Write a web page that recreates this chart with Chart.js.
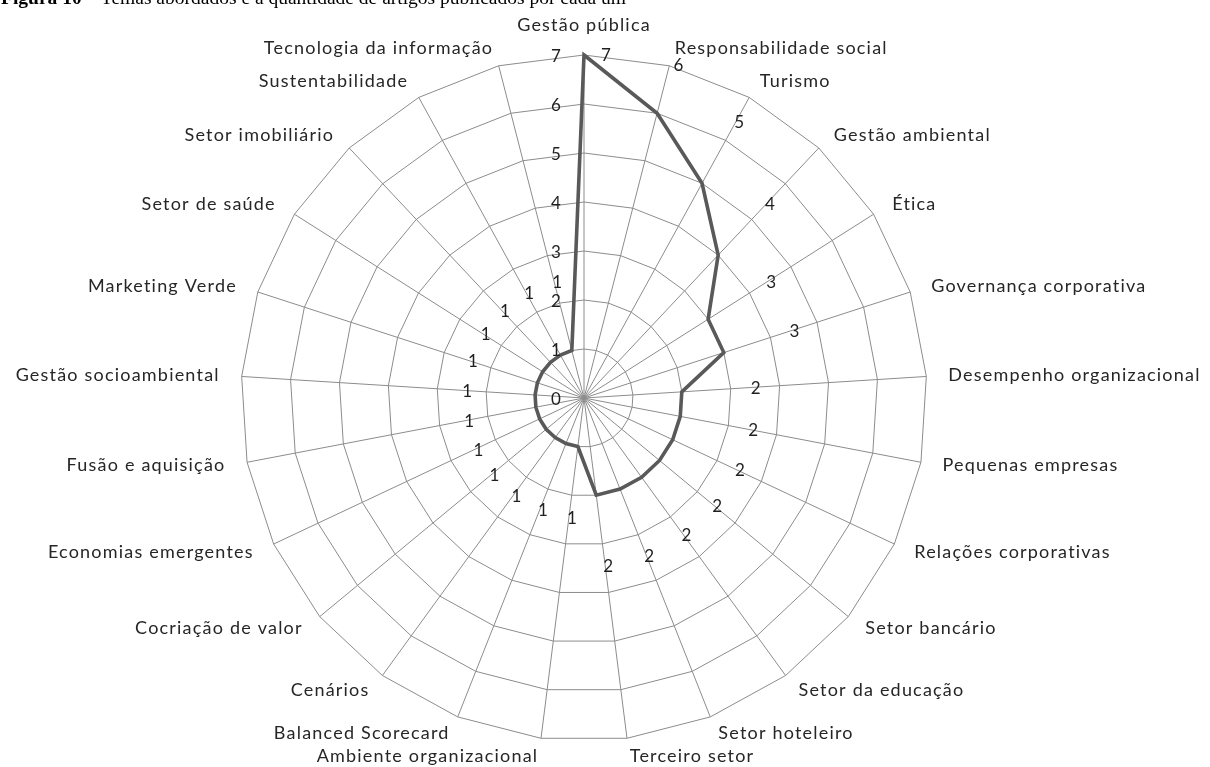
<!DOCTYPE html>
<html>
<head>
<meta charset="utf-8">
<script src="https://cdn.jsdelivr.net/npm/chart.js@4/dist/chart.umd.min.js"></script>
<style>
  html, body { margin: 0; padding: 0; background: #ffffff; }
  #wrap { position: relative; width: 1210px; height: 767px; overflow: hidden; background: #fff; }
  #title { position: absolute; left: 1px; top: -12px; font-family: 'Liberation Serif', 'Times New Roman', serif;
           font-size: 19.5px; line-height: 19.5px; white-space: nowrap; color: #000; z-index: 2; }
  #c { position: absolute; left: 0; top: 0; }
</style>
</head>
<body>
<div id="wrap">
  <div id="title"><b>Figura 10</b> – Temas abordados e a quantidade de artigos publicados por cada um</div>
  <canvas id="c" width="1210" height="767"></canvas>
</div>
<script>
// ---- Data ----
const categories = [
  'Gestão pública', 'Responsabilidade social', 'Turismo', 'Gestão ambiental', 'Ética',
  'Governança corporativa', 'Desempenho organizacional', 'Pequenas empresas', 'Relações corporativas',
  'Setor bancário', 'Setor da educação', 'Setor hoteleiro', 'Terceiro setor', 'Ambiente organizacional',
  'Balanced Scorecard', 'Cenários', 'Cocriação de valor', 'Economias emergentes', 'Fusão e aquisição',
  'Gestão socioambiental', 'Marketing Verde', 'Setor de saúde', 'Setor imobiliário', 'Sustentabilidade',
  'Tecnologia da informação'
];
const articleCounts = [7, 6, 5, 4, 3, 3, 2, 2, 2, 2, 2, 2, 2, 1, 1, 1, 1, 1, 1, 1, 1, 1, 1, 1, 1];
const tickValues = [0, 1, 2, 3, 4, 5, 6, 7];

// ---- Style constants ----
const FONT = '17px Lato, "Open Sans", sans-serif';
const LABEL_FONT = '18px Lato, "Open Sans", sans-serif';
const GRID_COLOR = '#8c8c8c';
const LINE_COLOR = '#595959';
const TEXT_COLOR = '#1f1f1f';

const annotatePlugin = {
  id: 'annotate',
  afterDatasetsDraw(chart) {
    const scale = chart.scales.r;
    const ctx = chart.ctx;
    const maxV = scale.max;
    ctx.save();
    ctx.font = FONT;
    ctx.fillStyle = TEXT_COLOR;
    ctx.textBaseline = 'middle';

    // axis tick labels, left of the first spoke
    ctx.textAlign = 'center';
    tickValues.forEach(v => {
      const p = scale.getPointPositionForValue(0, v);
      ctx.fillText(String(v), p.x - 28, p.y + 2);
    });

    // data labels
    articleCounts.forEach((v, i) => {
      const want = v + 1.45;
      const r = Math.min(want, maxV + 0.02);
      const extra = Math.max(0, want - maxV) * 13;
      const p = scale.getPointPositionForValue(i, r);
      ctx.fillText(String(v), p.x + 3 + extra, p.y + 1);
    });

    // category labels
    ctx.font = LABEL_FONT;
    if ('letterSpacing' in ctx) ctx.letterSpacing = '1.2px';
    ctx.fillStyle = '#262626';
    const R = scale.drawingArea;
    categories.forEach((lab, i) => {
      const a = scale.getIndexAngle(i);
      const s = Math.sin(a), c = Math.cos(a);
      const px = scale.getPointPosition(i, R + 22).x;
      let py = scale.getPointPosition(i, R + 14).y - c * 4;
      let align = 'center';
      if (s > 0.01) align = 'left';
      else if (s < -0.01) align = 'right';
      else py -= 12 * Math.sign(c);
      ctx.textAlign = align;
      ctx.fillText(lab, px, py);
    });
    ctx.restore();
  }
};

new Chart(document.getElementById('c'), {
  type: 'radar',
  data: {
    labels: categories,
    datasets: [{
      data: articleCounts,
      borderColor: LINE_COLOR,
      borderWidth: 3.6,
      fill: false,
      pointRadius: 0,
      pointHoverRadius: 0,
      tension: 0
    }]
  },
  options: {
    responsive: false,
    animation: false,
    layout: { padding: { left: 241, right: 283, top: 55, bottom: 26 } },
    plugins: { legend: { display: false }, tooltip: { enabled: false } },
    scales: {
      r: {
        min: 0,
        max: 7,
        startAngle: 0,
        ticks: { display: false, stepSize: 1 },
        pointLabels: { display: false },
        grid: { color: GRID_COLOR, lineWidth: 1 },
        angleLines: { color: GRID_COLOR, lineWidth: 1 }
      }
    }
  },
  plugins: [annotatePlugin]
});
</script>
</body>
</html>
